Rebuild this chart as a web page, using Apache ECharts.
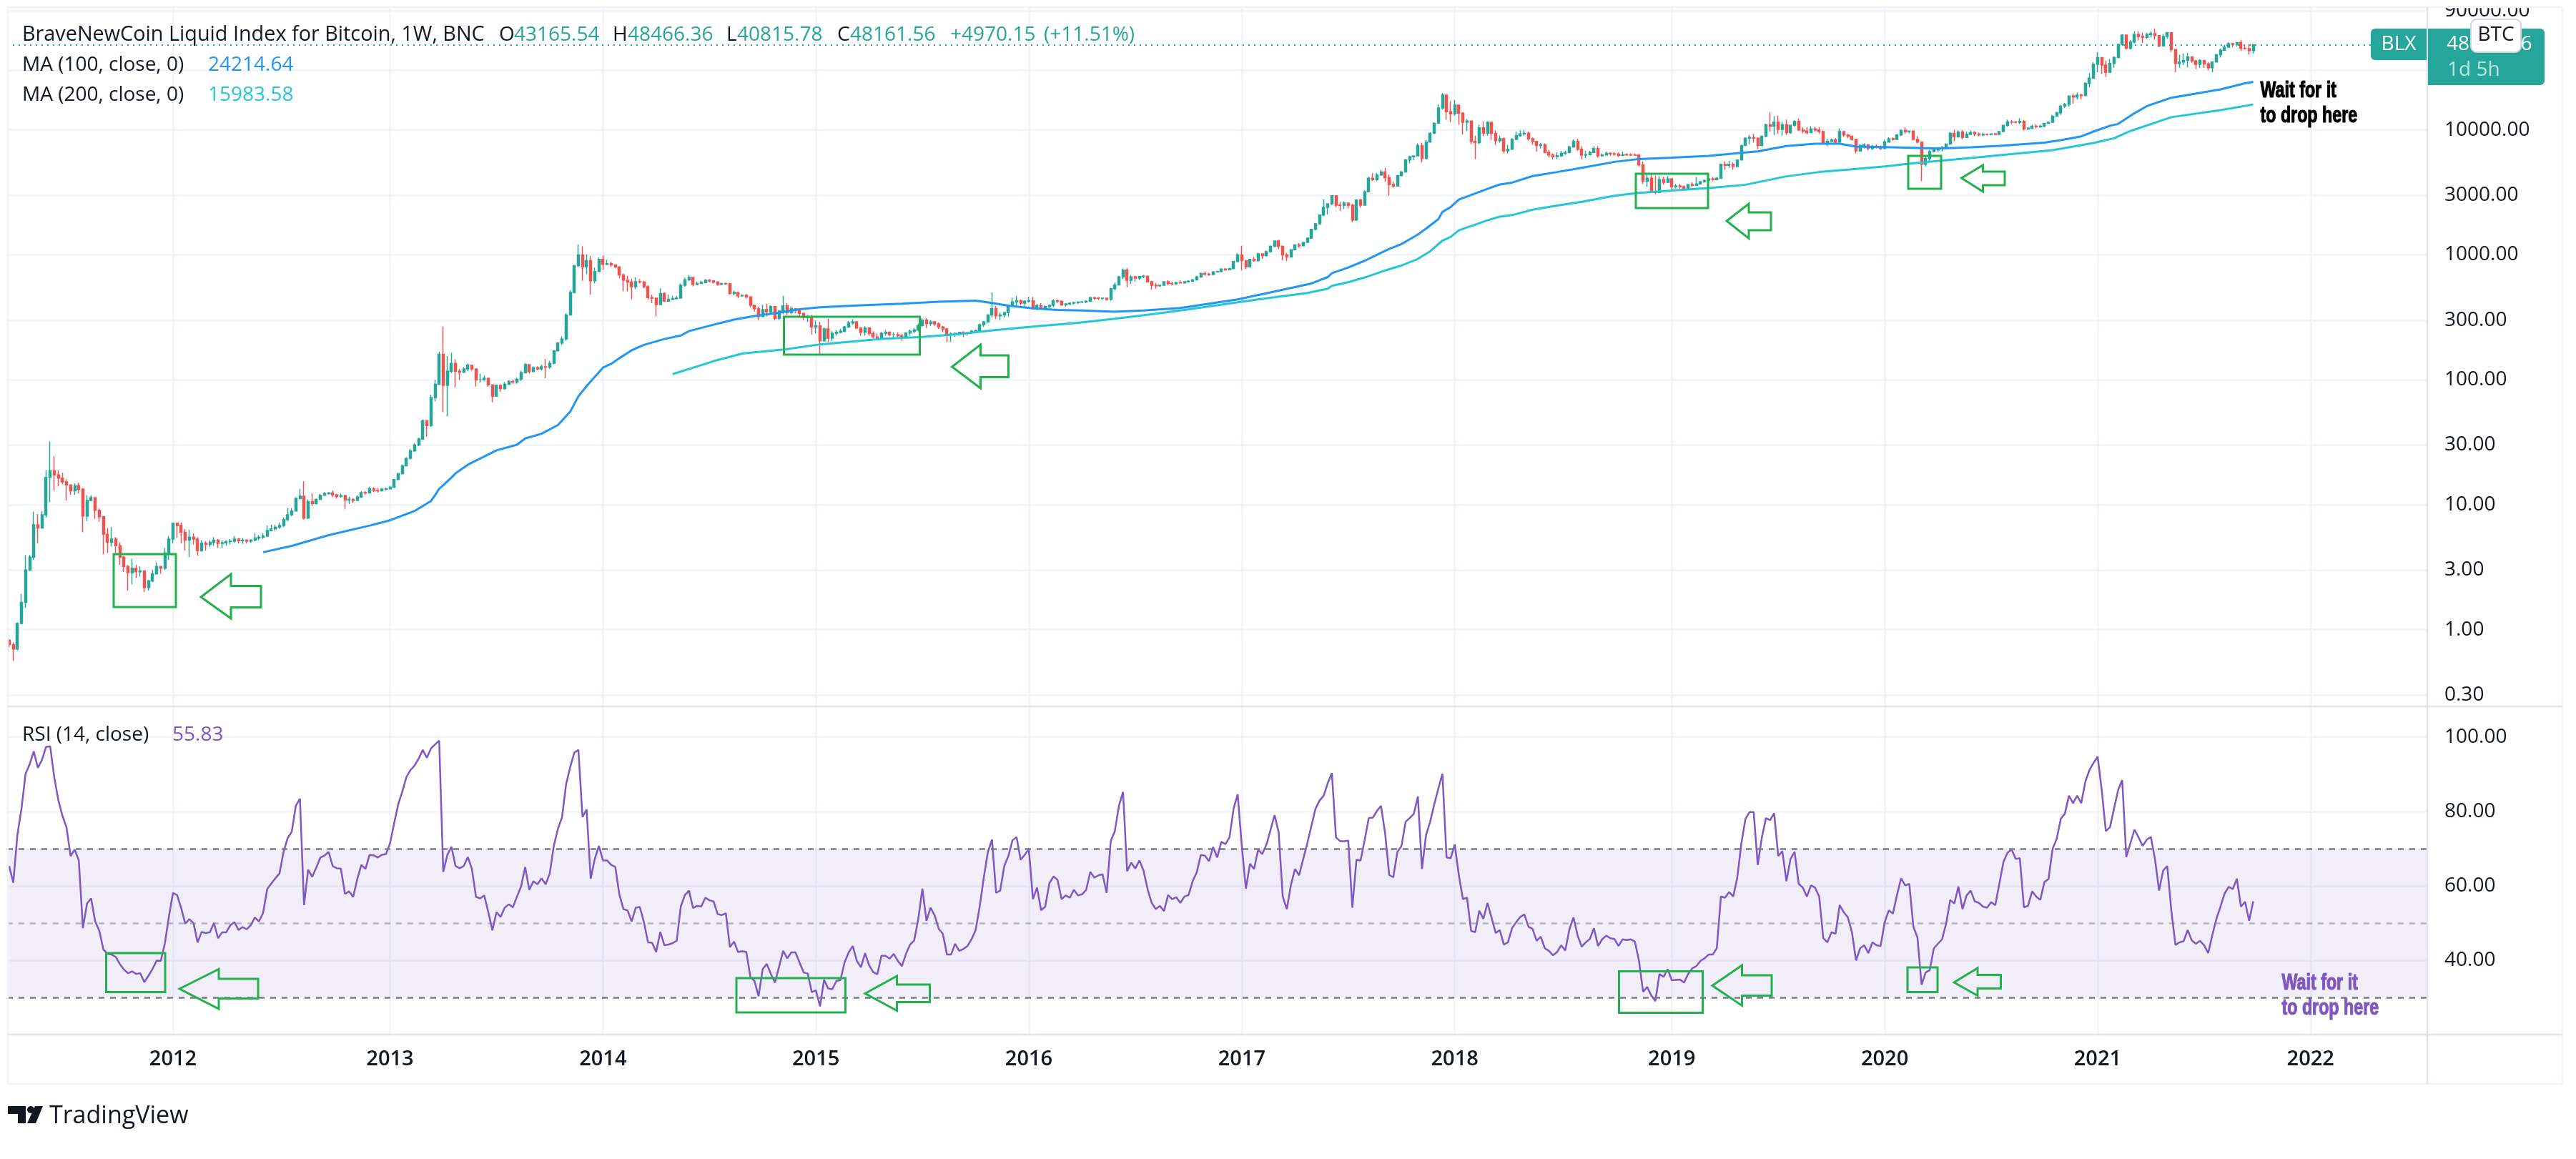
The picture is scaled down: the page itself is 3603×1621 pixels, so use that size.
<!DOCTYPE html>
<html>
<head>
<meta charset="utf-8">
<title>BLX weekly</title>
<script src="https://cdn.jsdelivr.net/npm/echarts@6/dist/echarts.min.js"></script>
<style>
    html, body { margin: 0; padding: 0; background: #fff; }
    #container { width: 3603px; height: 1621px; }
</style>
</head>
<body>
<div id="container"></div>
<script>
var closes = [
    .76,.70,1.12,1.65,3.0,3.8,6.9,6.5,8.3,16.5,
    18.7,17.3,16.3,15.2,14.4,12.9,14.2,13.3,8.1,10.8,
    11.4,9.0,8.0,5.8,5.0,5.3,4.7,3.8,3.2,2.85,
    3.1,2.9,2.95,2.17,2.45,2.8,3.2,3.1,4.1,5.3,
    7.1,6.8,6.0,5.2,5.5,5.3,4.3,4.9,4.8,5.0,
    5.2,4.9,4.95,5.05,5.1,5.3,5.15,5.2,5.1,5.2,
    5.4,5.5,5.6,6.2,6.4,6.6,6.8,7.6,8.3,8.9,
    11.2,11.7,7.8,10.6,10.2,11,11.9,12.3,12.4,12.0,
    11.6,11.8,10.9,11,10.8,11.5,12.5,12.4,13.4,13,
    12.9,13.3,13.4,13.8,15.9,17.7,20.5,23.5,27,30,
    33.5,47,43,72,92,160,90,117,135,117,
    115,122,131,122,100,100,103,91,74,90,
    85,92,97,96,101,114,132,116,125,122,
    127,126,135,170,197,212,330,500,820,1000,
    800,900,620,735,920,840,850,830,800,690,
    625,605,555,610,605,555,455,450,400,490,
    425,440,445,450,570,630,660,580,590,600,
    625,620,605,580,590,585,490,500,470,475,
    460,395,370,320,365,350,385,310,355,390,
    345,370,360,340,315,320,265,270,205,255,
    215,235,240,245,265,285,290,260,240,260,
    235,220,215,235,240,230,230,225,220,237,
    245,250,272,300,282,290,280,265,255,230,
    233,235,240,236,238,245,248,275,290,330,
    370,325,330,345,395,420,430,410,425,430,
    380,390,375,385,395,430,425,398,405,410,
    415,418,420,425,455,450,448,450,440,535,
    575,665,755,625,665,650,670,675,610,570,
    565,570,610,590,585,600,596,610,615,630,
    665,710,700,695,730,735,770,760,775,885,
    1000,900,800,920,900,1020,985,1060,1170,1290,
    1170,1000,960,1100,1200,1180,1260,1360,1600,1770,
    2080,2400,2560,2970,2500,2490,2600,2500,1900,2750,
    2500,3200,4100,4000,4350,4600,4150,3650,3550,4300,
    4600,5750,6100,6200,7500,5900,8000,9400,11300,15000,
    19000,14000,13500,15800,13600,11500,11800,8100,7900,10400,
    9400,11500,9400,8200,8500,6800,7000,8400,9000,9300,
    9400,8500,8100,7500,7600,6600,6300,6100,6200,6500,
    6600,7300,8100,7000,6300,6350,6600,7100,6200,6300,
    6500,6450,6400,6250,6350,6320,6300,6280,5250,3900,
    4100,3200,3150,4000,3800,4050,3500,3550,3500,3350,
    3650,3600,3700,3850,3950,4050,4000,4100,5300,5200,
    5300,5100,5750,7500,8600,8700,8600,7500,8900,11000,
    10700,11500,10100,11000,9500,10900,11700,10000,9800,9500,
    10200,10000,9700,7900,8100,8300,8000,9700,9100,8900,
    8400,6800,7500,7600,7100,7400,7300,7100,8000,8500,
    8400,9100,9900,9700,9800,8400,8000,5300,5900,6700,
    6900,7100,7200,7700,9400,8800,9600,8700,9200,9500,
    9300,9100,9200,9190,9300,9200,9700,10900,11600,11550,
    11500,11700,10200,10300,10700,10600,10700,11300,11500,12900,
    13700,15500,16000,18700,18300,19000,18800,23500,26000,33500,
    38000,33000,29000,34000,38000,48500,57500,45000,50500,58000,
    56000,55000,58000,59000,57000,47000,56000,60000,44000,34000,
    35000,36000,38500,35700,33500,36000,33800,31500,35000,40000,
    43500,46000,49000,48500,50000,45000,44800,43165.54,48161.56
];
var highs = [
    .84,.79,1.14,1.93,3.96,3.95,8.8,8.4,8.9,19,
    32,24.5,18.9,18,16,14.5,14.8,15,13.6,11.9,
    11.9,11.5,9.3,8,6.5,6.6,5.5,5,3.9,3.3,
    3.7,3.3,3.2,2.95,2.5,3.0,3.45,3.2,4.5,5.6,
    7.2,7.2,7.2,6.4,6.3,5.9,5.5,5.2,5.1,5.2,
    5.5,5.3,5.2,5.2,5.3,5.6,5.4,5.4,5.3,5.3,
    5.9,5.7,5.9,6.8,6.9,6.9,7.2,7.9,9.4,9.4,
    11.5,13.4,15.4,11,12.3,11.2,12.2,12.6,12.6,13,
    12.2,12.3,12,11.6,11.2,11.9,12.8,12.9,13.9,13.8,
    13.6,13.6,13.7,14.1,16.1,18,21,24,28,31,
    34.5,48,47,76,100,167,267,155,165,145,
    122,126,135,132,122,112,108,104,92,92,
    92,96,99,100,104,118,136,132,128,128,
    132,147,142,173,200,222,340,520,830,1210,
    1170,1010,980,790,950,990,915,880,840,805,
    710,680,640,660,640,620,570,480,455,540,
    500,480,470,470,590,655,690,665,610,620,
    640,640,625,615,595,600,595,515,500,480,
    485,465,395,385,398,406,395,390,360,470,
    412,385,375,362,345,330,330,298,290,262,
    308,245,250,255,270,295,305,295,262,268,
    265,245,235,242,250,245,240,240,232,240,
    252,260,282,310,312,300,295,288,270,260,
    240,238,242,245,240,250,252,282,295,335,
    500,390,345,350,400,455,470,440,432,460,
    460,405,410,395,400,440,440,430,412,415,
    422,422,425,432,460,460,460,455,455,545,
    600,680,778,780,690,680,680,690,680,620,
    595,578,612,625,610,610,625,615,625,640,
    680,720,735,720,740,745,780,780,785,895,
    1030,1180,910,930,960,1040,1030,1080,1190,1300,
    1320,1190,1040,1110,1210,1240,1270,1370,1610,1800,
    2100,2780,2580,3000,2980,2650,2680,2620,2560,2780,
    2800,3280,4220,4500,4500,4800,4980,4400,3850,4370,
    4680,5860,6200,6250,7800,7900,8300,9600,11500,16000,
    19700,17300,17000,17400,14500,13900,12200,11800,9000,11000,
    11700,11700,11500,9900,9000,8700,7600,8600,9700,9900,
    9990,9700,8700,8200,7900,7800,6900,6500,6600,6800,
    6800,7500,8400,8500,7400,6800,6800,7400,7400,6500,
    6700,6650,6650,6600,6700,6500,6500,6500,6400,5600,
    4400,4400,4300,4250,4200,4250,4100,3700,3700,3600,
    3700,3800,4200,3900,4000,4100,4200,4200,5350,5600,
    5650,5500,5800,7600,8700,9100,9300,8700,9000,11200,
    13900,12900,13000,11600,12100,11000,11950,12300,10500,10500,
    10700,10600,10500,9900,8500,8500,8600,10300,9700,9300,
    8900,8500,7700,7800,7700,7600,7650,7500,8300,8700,
    8700,9300,10100,10500,9900,9500,8900,8100,6200,6900,
    7200,7300,7450,7800,9600,10000,9900,10000,9700,9900,
    9800,9500,9500,9350,9400,9450,9800,11000,12100,12000,
    11800,12400,12000,10500,11000,11100,11000,11400,11700,13200,
    14000,15900,16500,18900,19500,19900,19500,24200,28500,34800,
    41900,38000,36000,37000,38800,49000,58300,58100,52500,61700,
    61500,60000,60000,61500,64800,57500,58500,60800,59500,42000,
    40000,41000,41300,36800,36500,36800,36300,35000,35500,40500,
    44700,47900,50400,49900,50500,52500,48500,48800,48466.36
];
var lows = [
    .72,.56,.68,1.1,1.5,3.0,3.6,4.9,6.5,7.9,
    10.5,13,14,14.6,10.8,12,12,12.3,6,7.4,
    10.7,7.7,7.3,4,4.1,4.6,4.1,3.3,2.9,2.05,
    2.3,2.6,2.65,2.0,2.05,2.4,2.75,2.8,3.0,3.6,
    4.9,5.4,4.9,4.3,3.8,4.8,3.9,4.2,4.3,4.6,
    4.7,4.5,4.5,4.7,4.8,4.95,4.9,4.85,4.9,4.95,
    5.1,5.2,5.3,5.5,6.1,6.2,6.4,6.6,7.4,8.1,
    8.8,11,7.6,7.7,9.8,10,10.9,11.9,12,11.5,
    11.2,11.4,9.2,10.1,10.3,10.8,11.4,12,12.3,12.6,
    12.5,12.8,13,13.2,13.6,15.7,17.5,20.2,23,26.5,
    29.5,33,35,42,67,91,55,51,113,87,
    100,113,117,118,88,95,98,88,66,73,
    80,83,91,93,93,98,112,112,115,119,
    119,103,122,133,170,190,205,330,490,800,
    620,700,480,590,730,760,825,800,780,650,
    510,510,440,530,590,540,440,410,320,400,
    420,425,435,440,445,555,620,560,570,585,
    590,600,590,565,575,575,480,475,450,460,
    445,380,350,300,320,320,340,300,300,335,
    330,335,340,315,300,290,230,235,160,205,
    200,205,225,235,240,260,275,255,225,225,
    225,215,210,215,225,222,218,220,205,218,
    225,235,245,265,260,270,270,255,240,200,
    200,220,225,220,225,235,240,245,265,285,
    315,305,300,315,320,385,395,395,385,415,
    365,360,370,365,375,380,410,390,385,395,
    400,405,410,410,420,435,435,435,430,430,
    520,570,640,550,585,610,630,650,600,525,
    535,555,565,570,570,575,590,595,605,610,
    625,655,680,680,690,720,725,745,750,770,
    885,750,770,790,880,880,930,970,1040,1150,
    1110,905,890,950,1090,1140,1170,1250,1340,1570,
    1750,2040,2100,2500,2400,2250,2320,2350,1830,1870,
    2400,2500,3200,3900,3900,4300,3850,2970,3450,3550,
    4250,4600,5400,5700,6200,5500,5850,8000,9400,11200,
    14500,12000,11500,13000,11000,9200,9800,7700,5840,7700,
    8900,9000,8300,7600,7900,6500,6500,6900,8300,8800,
    9000,8200,7600,6700,7100,6500,6000,5800,5900,6100,
    6300,6500,7200,6800,5800,5950,6250,6600,6000,6100,
    6250,6200,6200,6050,6150,6200,6180,6200,5100,3700,
    3500,3200,3050,3200,3650,3750,3300,3400,3400,3250,
    3350,3500,3580,3700,3780,3900,3900,3950,4050,4800,
    4950,4800,5000,5700,7400,7700,7900,7000,7400,8700,
    9700,9100,9300,9000,9100,9300,10600,9800,9400,9200,
    9500,9700,9300,7700,7400,8000,7800,7900,8800,8600,
    8200,6500,6700,7100,6850,6900,7100,6900,7000,7950,
    8200,8300,8900,9300,9400,8300,7800,3900,5100,5600,
    6600,6700,6700,7100,7600,8100,8700,8400,8800,9200,
    8900,8900,8900,9000,9050,9100,9100,9600,10600,11100,
    11300,11100,9900,10000,10250,10300,10400,10500,11200,11400,
    12900,13200,15000,15400,16200,17500,17600,18700,21900,28000,
    29000,28000,26500,28500,31500,38000,47000,44000,44000,49000,
    52000,49500,53500,55000,53000,46000,46500,53700,42000,29000,
    31500,33000,31700,34500,30500,31500,31300,30000,29000,34700,
    38000,43000,45500,46000,46500,42800,44000,40000,40815.78
];
var rsi = [
    65.3,60.8,73.7,80.7,90.1,92.7,96.1,91.7,93.8,97.3,
    97.5,89.2,83,78.8,75.7,68,69.7,66.8,48.6,55.2,
    56.6,50.4,47.9,42.9,41.7,41.5,40.9,39,37.5,36.5,
    37,36.3,36.5,34.1,35.8,37.6,39.9,39.8,44.4,51.7,
    58.1,57.5,54,49.8,51,50,44.8,47.6,47.3,47.5,
    50,45.9,47.5,47.5,49.4,50.2,48.1,48.9,48.3,49.4,
    51.5,50.4,52.7,59.1,60.6,62,63.3,69.1,72.8,74.5,
    81.5,83.4,54.8,64.3,62.4,64.9,67.6,68.1,69.1,65.3,
    64.7,64.6,57.8,58.5,57,61.8,65.6,64.5,68.3,68.2,
    67.6,68.3,68.5,71.4,76.8,81.9,85.3,89.2,91.1,92.3,
    94.2,96.5,94.4,96.9,98,99,63.7,68.3,70.5,65.3,
    64.7,65.3,67.7,64.5,57,56.6,57.4,52.9,48,52.9,
    51.6,54.1,55,54.2,57.1,59.8,65,58.9,61.2,60.4,
    62,60.4,63.3,70.7,75.3,78.4,87.3,91.9,95.8,96.5,
    78.5,80.5,61.9,67.2,70.7,66.8,66.8,65.6,65.1,57.7,
    53.7,53.4,50.4,54.1,54.3,50.2,44.8,44.7,42.2,47.6,
    44,44.2,44.6,45.2,54.4,57.5,58.7,54,54.6,54.4,
    56.8,56.1,55.8,52.4,52.1,52.6,43.5,45,42.2,42.4,
    42.2,35.5,34.4,30.3,37.6,39,36.3,34,38.2,42.5,
    40.5,42.1,42.1,39.4,36.7,36.4,31.4,31.9,27.6,34.7,
    32.4,32.2,34.4,34.7,39.4,42.1,43.8,39.8,38.1,41.9,
    38.6,36.8,36.2,41.2,41.2,40.4,41.7,39.8,38.4,41.7,
    44.2,45.3,51.1,59.2,50.6,54.1,52,48.4,47.1,41.5,
    41.5,44.4,42.5,43,43.8,45.6,48.1,54.4,62.2,69.1,
    72.4,58.1,58.7,65.3,68,72.2,73.1,67,68.3,69.9,
    56.4,59.5,53.4,54.4,60.6,62.5,61.6,56.4,57.4,56.8,
    58.9,57.4,57.7,58.9,63.7,62.2,62.8,63.1,58.1,72,
    74.7,81.5,85.2,63.9,66.2,64.6,66.8,64.1,59.1,55.4,
    53.7,54.6,53.2,57.5,56.4,56.9,55.4,57.1,57.5,61.2,
    63.6,68.3,68.1,66.6,70.4,67.6,71.8,71.2,73,80.7,
    84.6,70.7,59.2,65.9,64.5,69.7,68.5,71,74.9,79,
    74.4,57.1,53.7,60.2,64.5,62.8,67.2,71.4,76.1,80.7,
    82.9,84.2,87.6,90.3,73,72,72,72.1,54.1,67,
    66.8,72.2,78.2,78.3,80.1,81.5,74.1,62.9,62.3,69.1,
    70.7,77.2,78.2,79.3,84,64.5,73.7,77.2,81.9,86.1,
    90.1,67.6,67.4,71.1,62.9,56.4,56.8,47.9,47.5,53.3,
    51.1,55.4,51.4,47.3,48.1,44.2,44.8,48.6,50.2,51.6,
    52.3,49,48.4,45.2,46.3,43.2,42.5,41.3,42.2,44,
    42.6,48.3,51.5,46.7,43.6,44.8,45.7,48.6,43.8,45.6,
    46.6,45.9,45.7,43.8,45.6,45.4,45.6,45,39.8,31.5,
    32.8,30.5,29,36.3,35.5,37.6,34.6,34.7,34.8,34,
    36.3,37.8,38.4,39.8,40.5,41.5,41.5,43.2,57.1,56.8,
    58.3,57.1,62.2,71.4,78,79.8,79.8,65.6,73,78.2,
    77.6,79.5,68,69.3,61.2,67.2,69.1,60.5,59.5,57.1,
    60.1,59.5,57.1,45.9,44.8,47.5,47.1,54.8,52.9,51.5,
    47.5,39.9,43.2,44,41.9,44.8,44,43.8,50.2,53.4,
    52.5,57.5,62,60.1,60.5,49,46.1,33.4,36.7,37.3,
    43.2,44.4,45.6,49.8,56.2,55.2,59.8,53.7,57.4,58.7,
    55.8,55.4,54.4,54.1,55.6,54.8,60.6,66.4,68.9,69.7,
    67.2,67.4,54.2,54.6,58.5,57.1,56.2,61,61.8,69.9,
    72.6,78,79.4,84.2,82.2,84.2,82.2,88,91.1,93,
    94.7,85.7,74.7,75.7,80.7,85.7,88.4,67.7,71.4,75.1,
    73,70.7,72.4,73.1,67.2,58.7,64.1,65.3,53.3,44.1,
    44.8,45.1,48.1,45.3,44.4,45.2,44,41.9,46.7,51.1,
    54.4,57.9,59.7,59.1,61.9,54.4,55.7,50.6,55.83
];

// moving averages at the bends: [week number, price]
var ma100 = [
    [62,4.16],[69,4.68],[78,5.7],[88,6.8],[93,7.5],[99,8.9],[103,10.7],[104,11.9],[105,13.4],[106,14.3],
    [108,16.5],[109,17.8],[112,20.9],[115,23.4],[119,27.2],[124,30.2],[126,33.9],[130,37],[134,43.4],[137,55.6],
    [139,73.6],[141,89],[145,125],[147,134],[149,149],[152,172],[155,190],[160,212],[164,226],[166,245],
    [172,276],[177,303],[182,324],[188,345],[193,367],[198,380],[207,393],[218,406],[227,421],[236,430],
    [240,412],[244,392],[250,373],[256,362],[262,359],[270,350],[277,358],[286,375],[300,440],[310,517],
    [318,590],[322,664],[323,713],[327,792],[331,896],[334,1000],[337,1116],[340,1219],[344,1453],[346,1622],
    [349,1932],[350,2206],[352,2410],[354,2771],[361,3375],[364,3657],[367,3785],[372,4270],[378,4600],[384,4970],
    [392,5550],[398,5850],[406,6000],[415,6190],[423,6560],[427,6730],[434,7420],[441,7750],[447,7750],[451,7350],
    [458,7290],[465,7190],[471,7100],[479,7260],[486,7450],[497,7920],[501,8280],[506,8880],[509,9700],[513,10800],
    [515,11160],[519,13600],[522,15500],[528,18100],[540,21100],[546,23600],[548,24214.64]
];
var ma200 = [
    [162,111],[170,134],[172,141],[179,162],[190,176],[198,192],[213,212],[223,220],[232,232],[241,250],
    [251,268],[261,286],[270,308],[280,338],[286,359],[305,440],[317,495],[322,536],[323,565],[327,603],
    [331,659],[337,768],[340,820],[344,928],[347,1068],[350,1300],[352,1390],[354,1572],[361,1890],[364,2020],
    [367,2080],[372,2300],[378,2480],[384,2660],[392,2970],[398,3130],[406,3270],[415,3420],[424,3640],[434,4250],
    [442,4600],[450,4840],[458,5100],[466,5450],[479,5960],[488,6360],[499,6880],[509,7850],[514,8570],[518,9800],
    [528,12650],[540,14400],[548,15983.58]
];

var firstOpen = .82;
var lastPrice = 48161.56;
var yearStarts = [40, 93, 145, 197, 249, 301, 353, 406, 458, 510, 562];
var yearLabels = ['2012', '2013', '2014', '2015', '2016', '2017', '2018', '2019', '2020', '2021', '2022'];
var priceTicks = [0.3, 1, 3, 10, 30, 100, 300, 1000, 3000, 10000, 30000, 90000];
var rsiTicks = [40, 60, 80, 100];

// weekly bars plus the empty room to the right of the last one
var weeks = [];
for (var w = 0; w < 591; w++) {
    weeks.push(new Date(Date.UTC(2011, 2, 28 + w * 7)).toISOString().slice(0, 10));
}

var candles = closes.map(function (c, i) {
    return [i === 0 ? firstOpen : closes[i - 1], c, lows[i], highs[i]];
});

var fontName = '"Open Sans"';
var dark = '#131722';
var green = '#26a69a';
var red = '#ef5350';
var gridColor = '#f0f3fa';
var edgeColor = '#e0e3eb';
var markGreen = '#22b14c';
var purple = '#7e57c2';

function isYearStart(index) {
    return yearStarts.indexOf(index) >= 0;
}

function xAxisFor(gridIndex, withLabels) {
    return {
        type: 'category',
        gridIndex: gridIndex,
        data: weeks,
        boundaryGap: true,
        axisLine: { show: false },
        axisTick: { show: false },
        axisLabel: {
            show: withLabels,
            interval: function (index) { return isYearStart(index); },
            formatter: function (value, index) { return yearLabels[yearStarts.indexOf(index)]; },
            margin: 20,
            fontFamily: fontName,
            fontSize: 29,
            fontWeight: 600,
            color: dark
        },
        splitLine: {
            show: true,
            alignWithLabel: true,
            interval: function (index) { return isYearStart(index); },
            lineStyle: { color: gridColor, width: 2.5 }
        }
    };
}

function text(x, y, str, color, size, extra) {
    var style = {
        x: x, y: y, text: str, fill: color,
        font: (size || 28) + 'px ' + fontName,
        verticalAlign: 'middle'
    };
    for (var k in (extra || {})) style[k] = extra[k];
    return { type: 'text', z: 100, style: style };
}

function hline(y, x1, x2, color) {
    return { type: 'line', z: 90, shape: { x1: x1, y1: y, x2: x2, y2: y }, style: { stroke: color, lineWidth: 2.5 } };
}

function vline(x, y1, y2, color) {
    return { type: 'line', z: 90, shape: { x1: x, y1: y1, x2: x, y2: y2 }, style: { stroke: color, lineWidth: 2.5 } };
}

function box(x0, y0, x1, y1) {
    return {
        type: 'rect', z: 95,
        shape: { x: x0, y: y0, width: x1 - x0, height: y1 - y0 },
        style: { fill: 'none', stroke: markGreen, lineWidth: 3 }
    };
}

// tip, then head top / neck / tail down the back, in drawing order
function arrow(tipX, tipY, neckX, tailX, headTop, neckTop, neckBottom, headBottom) {
    return {
        type: 'polygon', z: 95,
        shape: {
            points: [[tipX, tipY], [neckX, headTop], [neckX, neckTop], [tailX, neckTop],
                [tailX, neckBottom], [neckX, neckBottom], [neckX, headBottom]]
        },
        style: { fill: 'none', stroke: markGreen, lineWidth: 3 }
    };
}

// no Impact here, so squeeze a heavy sans to the same proportions
function impact(x, y, str, color) {
    return {
        type: 'text', z: 100, x: x, y: y, scaleX: 0.75,
        style: {
            x: 0, y: 0, text: str, fill: color,
            font: 'bold 31px "Liberation Sans"',
            verticalAlign: 'middle',
            stroke: color,
            lineWidth: 1.2
        }
    };
}

var graphics = [
    // clip what rises above the pane, then the frame
    { type: 'rect', z: 80, shape: { x: 0, y: 0, width: 3603, height: 10 }, style: { fill: '#fff' } },
    hline(10, 11, 3584, gridColor),
    hline(1516, 11, 3584, gridColor),
    vline(11, 10, 1516, gridColor),
    vline(3584, 10, 1516, gridColor),
    hline(988, 11, 3584, edgeColor),
    hline(1447, 11, 3584, edgeColor),
    vline(3395, 10, 1516, edgeColor),

    // header
    text(31, 49, 'BraveNewCoin Liquid Index for Bitcoin, 1W, BNC', dark, 28.8),
    text(698, 49, 'O', dark), text(719, 49, '43165.54', green),
    text(857, 49, 'H', dark), text(878, 49, '48466.36', green),
    text(1016, 49, 'L', dark), text(1031, 49, '40815.78', green),
    text(1171, 49, 'C', dark), text(1189, 49, '48161.56', green),
    text(1329, 49, '+4970.15', green), text(1460, 49, '(+11.51%)', green),
    text(31, 91, 'MA (100, close, 0)', dark), text(291, 91, '24214.64', '#2196f3'),
    text(31, 133, 'MA (200, close, 0)', dark), text(291, 133, '15983.58', '#26c6da'),
    text(31, 1028, 'RSI (14, close)', dark), text(241, 1028, '55.83', purple),

    // price tag on the scale
    { type: 'rect', z: 96, shape: { x: 3316, y: 40, width: 78, height: 44, r: [6, 0, 0, 6] }, style: { fill: green } },
    { type: 'rect', z: 96, shape: { x: 3396, y: 40, width: 163, height: 79, r: [0, 6, 6, 0] }, style: { fill: green } },
    text(3355, 62, 'BLX', '#fff', 28, { align: 'center' }),
    text(3422, 62, '48161.56', '#fff'),
    text(3423, 98, '1d 5h', 'rgba(255,255,255,.7)'),
    { type: 'rect', z: 101, shape: { x: 3456, y: 27, width: 70, height: 46, r: 8 }, style: { fill: '#fff', stroke: '#d1d4dc', lineWidth: 2 } },
    { type: 'text', z: 102, style: { x: 3491, y: 49, text: 'BTC', fill: dark, font: '28px ' + fontName, align: 'center', verticalAlign: 'middle' } },

    // hand drawn marks, price pane
    box(159, 775, 246, 849),
    arrow(281, 835, 323, 365, 803, 819.5, 849.5, 865),
    box(1096.5, 443, 1286.5, 496),
    arrow(1331.5, 513, 1371.5, 1410.5, 482, 497, 527.5, 543),
    box(2288, 243, 2389, 291),
    arrow(2415, 309, 2446, 2477, 285, 297, 322, 333.5),
    box(2669, 218, 2715, 264),
    arrow(2743.5, 249, 2773.5, 2804, 231, 240, 259, 268),
    impact(3161.5, 127.5, 'Wait for it', '#000'),
    impact(3161.5, 162, 'to drop here', '#000'),

    // hand drawn marks, RSI pane
    box(148.5, 1333, 231, 1387.5),
    arrow(251, 1383, 306, 361, 1355.5, 1369, 1396.5, 1411),
    box(1030, 1368, 1182.5, 1416),
    arrow(1210, 1389.5, 1254.5, 1300.5, 1365, 1377, 1401.5, 1413.5),
    box(2264.5, 1358.5, 2381.5, 1416.5),
    arrow(2395, 1378.5, 2436.5, 2478, 1350, 1364, 1392.5, 1406.5),
    box(2668, 1353, 2710, 1387.5),
    arrow(2733, 1374, 2766, 2798.5, 1354, 1363.5, 1382.5, 1392.5),
    impact(3191.5, 1375.5, 'Wait for it', purple),
    impact(3191.5, 1410, 'to drop here', purple),

    // TradingView logo
    { type: 'polygon', z: 100, shape: { points: [[11, 1547], [36, 1547], [36, 1571], [25, 1571], [25, 1558], [11, 1558]] }, style: { fill: dark } },
    { type: 'circle', z: 100, shape: { cx: 43, cy: 1552, r: 5 }, style: { fill: dark } },
    { type: 'polygon', z: 100, shape: { points: [[49, 1547], [60, 1547], [50, 1571], [38, 1571]] }, style: { fill: dark } },
    text(69, 1561, 'TradingView', dark, 34)
];

var myChart = echarts.init(document.getElementById('container'), null, { renderer: 'canvas' });

var option = {
    animation: false,
    backgroundColor: '#fff',
    grid: [
        { left: 10, top: 10, width: 3385, height: 978 },
        { left: 10, top: 988, width: 3385, height: 459 }
    ],
    xAxis: [xAxisFor(0, false), xAxisFor(1, true)],
    yAxis: [
        {
            type: 'log',
            gridIndex: 0,
            position: 'right',
            min: 0.2427,
            max: 96100,
            axisLine: { show: false },
            axisTick: { show: false, customValues: priceTicks },
            axisLabel: {
                customValues: priceTicks,
                margin: 24,
                padding: [4, 0, 0, 0],
                fontFamily: fontName,
                fontSize: 28,
                color: dark,
                formatter: function (v) { return Number(v).toFixed(2); }
            },
            splitLine: { show: true, lineStyle: { color: gridColor, width: 2.5 } }
        },
        {
            type: 'value',
            gridIndex: 1,
            position: 'right',
            min: 20,
            max: 108.2,
            axisLine: { show: false },
            axisTick: { show: false, customValues: rsiTicks },
            axisLabel: {
                customValues: rsiTicks,
                margin: 24,
                padding: [2, 0, 0, 0],
                fontFamily: fontName,
                fontSize: 28,
                color: dark,
                formatter: function (v) { return Number(v).toFixed(2); }
            },
            splitLine: { show: true, lineStyle: { color: gridColor, width: 2.5 } }
        }
    ],
    series: [
        {
            name: 'BLX',
            type: 'candlestick',
            xAxisIndex: 0,
            yAxisIndex: 0,
            data: candles,
            barWidth: 3.5,
            large: false,
            progressive: 0,
            clip: false,
            itemStyle: { color: green, color0: red, borderColor: green, borderColor0: red, borderWidth: 1.5 },
            markLine: {
                silent: true,
                symbol: 'none',
                label: { show: false },
                lineStyle: { color: green, type: [2, 6], width: 2 },
                data: [{ yAxis: lastPrice }]
            }
        },
        {
            name: 'MA 100',
            type: 'line',
            xAxisIndex: 0,
            yAxisIndex: 0,
            data: ma100,
            showSymbol: false,
            lineStyle: { color: '#2196f3', width: 3 }
        },
        {
            name: 'MA 200',
            type: 'line',
            xAxisIndex: 0,
            yAxisIndex: 0,
            data: ma200,
            showSymbol: false,
            lineStyle: { color: '#26c6da', width: 3 }
        },
        {
            name: 'RSI',
            type: 'line',
            xAxisIndex: 1,
            yAxisIndex: 1,
            data: rsi,
            showSymbol: false,
            lineStyle: { color: purple, width: 2.5 },
            markArea: {
                silent: true,
                itemStyle: { color: 'rgba(126,87,194,.1)' },
                data: [[{ yAxis: 70 }, { yAxis: 30 }]]
            },
            markLine: {
                silent: true,
                symbol: 'none',
                label: { show: false },
                data: [
                    { yAxis: 70, lineStyle: { color: '#787b86', type: [8, 8], width: 2.5 } },
                    { yAxis: 50, lineStyle: { color: 'rgba(120,123,134,.5)', type: [8, 8], width: 2.5 } },
                    { yAxis: 30, lineStyle: { color: '#787b86', type: [8, 8], width: 2.5 } }
                ]
            }
        }
    ],
    graphic: graphics
};

myChart.setOption(option);
</script>
</body>
</html>
